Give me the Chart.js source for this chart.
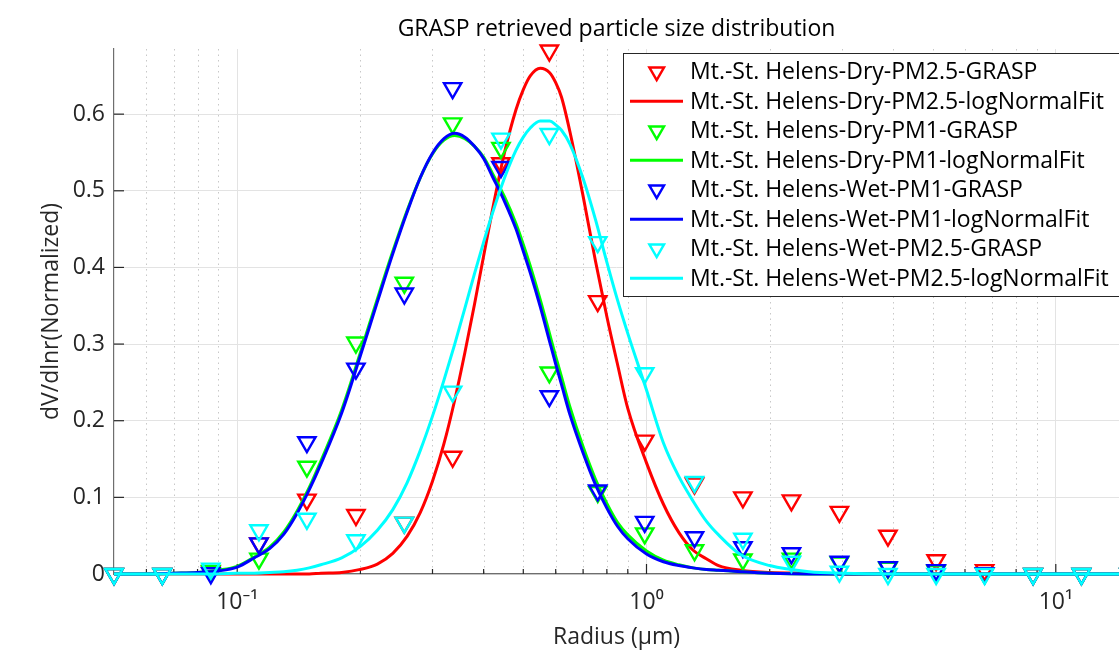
<!DOCTYPE html>
<html>
<head>
<meta charset="utf-8">
<script src="https://cdn.jsdelivr.net/npm/chart.js@4/dist/chart.umd.min.js"></script>
<style>
  html, body { margin: 0; padding: 0; background: #fff; overflow: hidden; }
  canvas { display: block; }
</style>
</head>
<body>
<canvas id="psd" width="1119" height="667"></canvas>
<script>
// GRASP size bins (um)
const binRadius = [0.05, 0.0656, 0.0862, 0.113, 0.148, 0.195, 0.256, 0.336, 0.441, 0.579, 0.76,
                   0.99, 1.31, 1.72, 2.26, 2.96, 3.89, 5.1, 6.7, 8.8, 11.55, 15.1];

const dryPM25Grasp = [0, 0, 0.003, 0.040, 0.097, 0.077, 0.067, 0.153, 0.536, 0.683, 0.356,
                      0.174, 0.118, 0.100, 0.096, 0.081, 0.050, 0.018, 0.005, 0, 0, 0];
const dryPM1Grasp  = [0, 0, 0.004, 0.020, 0.140, 0.302, 0.380, 0.588, 0.556, 0.263, 0.107,
                      0.053, 0.031, 0.019, 0.020, 0.015, 0.008, 0.004, 0.001, 0, 0, 0];
const wetPM1Grasp  = [0, 0, 0.001, 0.040, 0.172, 0.268, 0.366, 0.634, 0.531, 0.232, 0.109,
                      0.068, 0.048, 0.035, 0.027, 0.016, 0.009, 0.005, 0.001, 0, 0, 0];
const wetPM25Grasp = [0, 0, 0.007, 0.057, 0.072, 0.044, 0.067, 0.238, 0.568, 0.574, 0.433,
                      0.262, 0.120, 0.046, 0.016, 0.003, 0, 0, 0, 0, 0, 0];

// log-normal fit curves, read at these radii
const fitRadius = [0.05, 0.06, 0.07, 0.08, 0.09, 0.1, 0.11, 0.12, 0.13, 0.14, 0.15, 0.16,
                   0.18, 0.2, 0.22, 0.24, 0.26, 0.28, 0.3, 0.32, 0.34, 0.36, 0.38, 0.4,
                   0.42, 0.45, 0.48, 0.5, 0.52, 0.55, 0.58, 0.6, 0.62, 0.65, 0.7, 0.75,
                   0.8, 0.85, 0.9, 1.0, 1.1, 1.2, 1.3, 1.4, 1.5, 1.7, 2.0, 2.5, 3, 4, 5, 7, 10, 15];

const dryPM25Fit = [0, 0, 0, 0, 0, 0, 0, 0, 0, 0, 0, 0.001,
                    0.002, 0.006, 0.013, 0.027, 0.049, 0.080, 0.121, 0.170, 0.227, 0.289, 0.352, 0.415,
                    0.474, 0.550, 0.606, 0.632, 0.650, 0.660, 0.654, 0.641, 0.622, 0.577, 0.493, 0.409,
                    0.336, 0.273, 0.216, 0.145, 0.091, 0.054, 0.031, 0.020, 0.011, 0.005, 0.002, 0.001, 0, 0, 0, 0, 0, 0];
const dryPM1Fit  = [0, 0, 0.001, 0.002, 0.005, 0.010, 0.022, 0.035, 0.055, 0.082, 0.113, 0.147,
                    0.214, 0.289, 0.359, 0.421, 0.474, 0.517, 0.548, 0.566, 0.572, 0.568, 0.558, 0.544,
                    0.523, 0.492, 0.457, 0.430, 0.402, 0.358, 0.313, 0.284, 0.257, 0.218, 0.166, 0.124,
                    0.092, 0.067, 0.051, 0.030, 0.018, 0.012, 0.008, 0.006, 0.005, 0.003, 0.001, 0, 0, 0, 0, 0, 0, 0];
const wetPM1Fit  = [0, 0, 0.001, 0.002, 0.004, 0.009, 0.021, 0.033, 0.052, 0.079, 0.110, 0.143,
                    0.210, 0.285, 0.355, 0.418, 0.472, 0.517, 0.549, 0.568, 0.575, 0.570, 0.558, 0.542,
                    0.519, 0.486, 0.450, 0.421, 0.393, 0.349, 0.303, 0.274, 0.247, 0.208, 0.158, 0.117,
                    0.086, 0.062, 0.046, 0.026, 0.016, 0.011, 0.008, 0.006, 0.005, 0.003, 0.001, 0, 0, 0, 0, 0, 0, 0];
const wetPM25Fit = [0, 0, 0, 0, 0, 0.001, 0.001, 0.002, 0.003, 0.005, 0.008, 0.012,
                    0.021, 0.036, 0.057, 0.084, 0.119, 0.161, 0.206, 0.253, 0.300, 0.347, 0.392, 0.433,
                    0.470, 0.517, 0.553, 0.570, 0.582, 0.591, 0.591, 0.586, 0.579, 0.561, 0.516, 0.463,
                    0.407, 0.357, 0.314, 0.240, 0.171, 0.127, 0.095, 0.069, 0.051, 0.025, 0.011, 0.003, 0.001, 0, 0, 0, 0, 0];

const seriesNames = [
  'Mt.-St. Helens-Dry-PM2.5-GRASP', 'Mt.-St. Helens-Dry-PM2.5-logNormalFit',
  'Mt.-St. Helens-Dry-PM1-GRASP', 'Mt.-St. Helens-Dry-PM1-logNormalFit',
  'Mt.-St. Helens-Wet-PM1-GRASP', 'Mt.-St. Helens-Wet-PM1-logNormalFit',
  'Mt.-St. Helens-Wet-PM2.5-GRASP', 'Mt.-St. Helens-Wet-PM2.5-logNormalFit'
];
const seriesColors = ['#ff0000', '#00ff00', '#0000ff', '#00ffff'];

const xMajorTicks = [0.1, 1, 10];
const xMinorTicks = [0.06, 0.07, 0.08, 0.09, 0.2, 0.3, 0.4, 0.5, 0.6, 0.7, 0.8, 0.9,
                     2, 3, 4, 5, 6, 7, 8, 9];
const xTickLabels = { 0.1: '10⁻¹', 1: '10⁰', 10: '10¹' };
const yTicks = [0, 0.1, 0.2, 0.3, 0.4, 0.5, 0.6];

const FONT = '"Open Sans", "Noto Sans", "DejaVu Sans", sans-serif';
const FONT_SIZE = 23;
const AXIS_COLOR = '#262626';

function markerSet(label, values, color, order) {
  return {
    label: label,
    data: binRadius.map((r, i) => ({ x: r, y: values[i] })),
    showLine: false,
    pointStyle: 'triangle',
    rotation: 180,
    pointRadius: 10,
    pointBorderWidth: 2.4,
    pointBorderColor: color,
    pointBackgroundColor: 'rgba(0,0,0,0)',
    clip: false,
    order: order
  };
}

function fitSet(label, values, color, order) {
  return {
    label: label,
    data: fitRadius.map((r, i) => ({ x: r, y: values[i] })),
    showLine: true,
    borderColor: color,
    borderWidth: 3,
    pointRadius: 0,
    cubicInterpolationMode: 'monotone',
    clip: false,
    order: order
  };
}

const markerData = [dryPM25Grasp, dryPM1Grasp, wetPM1Grasp, wetPM25Grasp];
const fitData = [dryPM25Fit, dryPM1Fit, wetPM1Fit, wetPM25Fit];
const datasets = [];
for (let i = 0; i < 4; i++) {
  // later series drawn on top, as in the original figure
  datasets.push(markerSet(seriesNames[2 * i], markerData[i], seriesColors[i], 8 - 2 * i));
  datasets.push(fitSet(seriesNames[2 * i + 1], fitData[i], seriesColors[i], 7 - 2 * i));
}

// minor dotted grid, inward tick marks, and the boxed legend
const matlabLook = {
  id: 'matlabLook',
  beforeDatasetsDraw(chart) {
    const { ctx, chartArea: a, scales: { x, y } } = chart;
    ctx.save();
    ctx.strokeStyle = '#c8c8c8';
    ctx.lineWidth = 1;
    ctx.setLineDash([1.5, 4]);
    xMinorTicks.forEach(v => {
      const px = Math.round(x.getPixelForValue(v)) + 0.5;
      ctx.beginPath();
      ctx.moveTo(px, a.top);
      ctx.lineTo(px, a.bottom);
      ctx.stroke();
    });
    ctx.setLineDash([]);
    ctx.strokeStyle = AXIS_COLOR;
    ctx.lineWidth = 1.2;
    yTicks.forEach(v => {
      const py = y.getPixelForValue(v);
      ctx.beginPath();
      ctx.moveTo(a.left, py);
      ctx.lineTo(a.left + 10, py);
      ctx.stroke();
    });
    xMajorTicks.concat(xMinorTicks).forEach(v => {
      const px = x.getPixelForValue(v);
      const len = xMajorTicks.includes(v) ? 10 : 5;
      ctx.beginPath();
      ctx.moveTo(px, a.bottom);
      ctx.lineTo(px, a.bottom - len);
      ctx.stroke();
    });
    ctx.restore();
  },
  afterDraw(chart) {
    const ctx = chart.ctx;
    const box = { left: 623.5, top: 53.5, right: 1140, bottom: 296.5 };
    ctx.save();
    ctx.fillStyle = '#ffffff';
    ctx.fillRect(box.left, box.top, box.right - box.left, box.bottom - box.top);
    ctx.strokeStyle = AXIS_COLOR;
    ctx.lineWidth = 1;
    ctx.strokeRect(box.left, box.top, box.right - box.left, box.bottom - box.top);
    ctx.font = FONT_SIZE + 'px ' + FONT;
    ctx.textBaseline = 'middle';
    chart.data.datasets.forEach((ds, i) => {
      const rowY = 71.7 + i * 29.5;
      const color = seriesColors[Math.floor(i / 2)];
      if (ds.showLine) {
        ctx.strokeStyle = color;
        ctx.lineWidth = 3;
        ctx.beginPath();
        ctx.moveTo(630, rowY);
        ctx.lineTo(683, rowY);
        ctx.stroke();
      } else {
        ctx.fillStyle = 'rgba(0,0,0,0)';
        ctx.strokeStyle = color;
        ctx.lineWidth = 2.4;
        Chart.helpers.drawPoint(ctx, {
          pointStyle: 'triangle', rotation: 180, radius: 8.5, borderWidth: 2.4
        }, 656.7, rowY);
      }
      ctx.fillStyle = '#000';
      ctx.fillText(ds.label, 690, rowY + 1);
    });
    ctx.restore();
  }
};

new Chart(document.getElementById('psd'), {
  type: 'scatter',
  data: { datasets: datasets },
  plugins: [matlabLook],
  options: {
    responsive: false,
    animation: false,
    events: [],
    layout: { padding: 0, autoPadding: false },
    plugins: {
      legend: { display: false },
      tooltip: { enabled: false },
      title: {
        display: true,
        fullSize: false,
        text: 'GRASP retrieved particle size distribution',
        color: '#000',
        font: { family: FONT, size: FONT_SIZE, weight: 'normal', lineHeight: 1.2 },
        padding: { top: 16, bottom: 5.4 }
      }
    },
    scales: {
      x: {
        type: 'logarithmic',
        min: 0.05,
        max: 14.27,
        afterBuildTicks: s => { s.ticks = xMajorTicks.map(v => ({ value: v, major: true })); },
        afterFit: s => { s.height = 93; s.paddingLeft = 0; s.paddingRight = 0; },
        grid: { color: '#e3e3e3', lineWidth: 1, drawTicks: false },
        border: { display: true, color: '#6e6e6e', width: 1.2 },
        ticks: {
          autoSkip: false,
          maxRotation: 0,
          padding: 15,
          color: AXIS_COLOR,
          font: { family: FONT, size: FONT_SIZE },
          callback: v => xTickLabels[v] || ''
        },
        title: {
          display: true,
          text: 'Radius (μm)',
          color: AXIS_COLOR,
          font: { family: FONT, size: FONT_SIZE, lineHeight: 1.2 },
          padding: { top: 0, bottom: 16 }
        }
      },
      y: {
        min: 0,
        max: 0.685,
        afterBuildTicks: s => { s.ticks = yTicks.map(v => ({ value: v })); },
        afterFit: s => { s.width = 114; },
        grid: { color: '#e3e3e3', lineWidth: 1, drawTicks: false },
        border: { display: true, color: '#6e6e6e', width: 1.2 },
        ticks: {
          padding: 9,
          color: AXIS_COLOR,
          font: { family: FONT, size: FONT_SIZE },
          callback: v => (v === 0 ? '0' : v.toFixed(1))
        },
        title: {
          display: true,
          text: 'dV/dlnr(Normalized)',
          color: AXIS_COLOR,
          font: { family: FONT, size: FONT_SIZE, lineHeight: 1.2 },
          padding: { top: 38, bottom: 0 }
        }
      }
    }
  }
});
</script>
</body>
</html>
